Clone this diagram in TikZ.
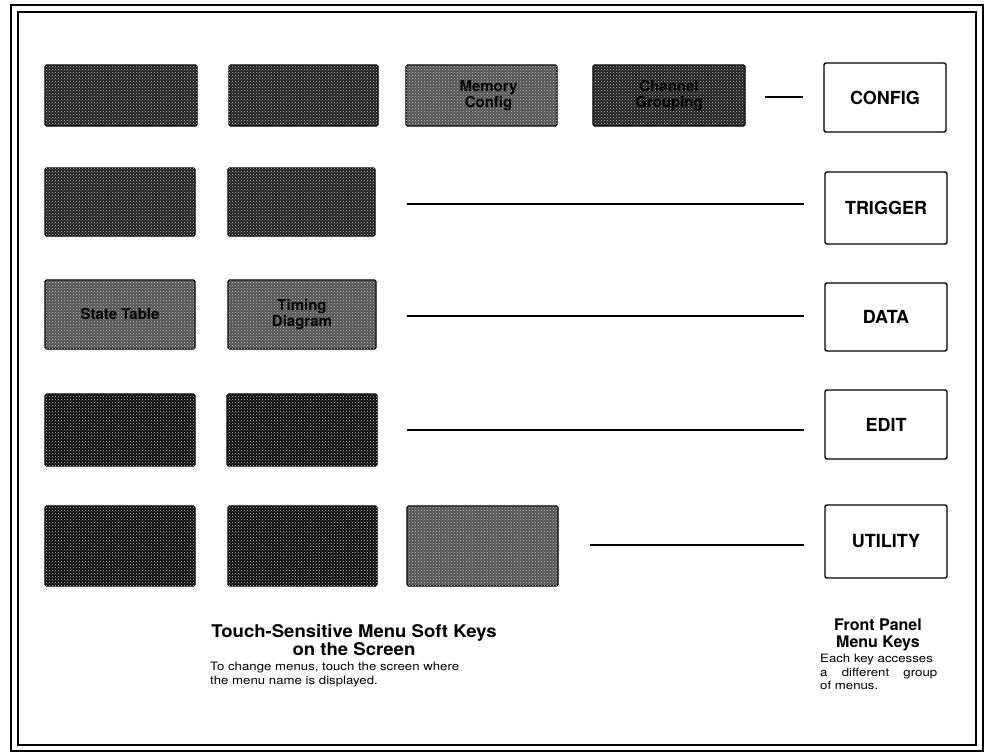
\documentclass[tikz,border=0pt]{standalone}
\usepackage{fontspec}
\setmainfont{TeX Gyre Heros}
\newfontfamily\widefont[FakeStretch=1.15]{TeX Gyre Heros}
\newfontfamily\titlefont[FakeStretch=1.06]{TeX Gyre Heros}
\usetikzlibrary{patterns}
\begin{document}
\begin{tikzpicture}[x=1pt,y=-1pt,
  softkey/.style={draw=black, line width=1.2pt, rounded corners=1.5pt, inner sep=0pt,
    font=\fontsize{15}{16}\selectfont\bfseries, align=center, text=black,
    postaction={pattern=crosshatch dots, pattern color=white!80!black}},
  keymid/.style={softkey, fill=black!68},
  keydark/.style={softkey, fill=black!88},
  keyvdark/.style={softkey, fill=black!96},
  panelkey/.style={draw=black, line width=1.4pt, rounded corners=2pt, inner sep=0pt,
    minimum width=122, minimum height=70, font=\fontsize{18}{19}\selectfont\bfseries},
  conn/.style={draw=black, line width=1.3pt, shorten >=20pt},
  title/.style={align=center, inner sep=0pt, font=\titlefont\fontsize{17.5}{18.5}\selectfont\bfseries},
  note/.style={inner sep=0pt, font=\widefont\fontsize{11.5}{13.5}\selectfont}
]
\useasboundingbox (0,0) rectangle (991,755);
\fill[white] (0,0) rectangle (991,755);
% frame
\draw[line width=2.2pt] (11,5) rectangle (983,751);
\draw[line width=1.6pt] (18,12) rectangle (976,745);

% row 1
\node[keydark, minimum width=152, minimum height=61] (k11) at (121,95.5) {};
\node[keydark, minimum width=149, minimum height=61] (k12) at (303.5,95.5) {};
\node[keymid, minimum width=151, minimum height=61] (k13) at (481.5,95.5) {\hspace*{14pt}Memory\\\hspace*{14pt}Config};
\node[keydark, minimum width=152, minimum height=61] (k14) at (669,95.5) {Channel\\Grouping};
% row 2
\node[keydark, minimum width=150, minimum height=68] (k21) at (120,202) {};
\node[keydark, minimum width=147, minimum height=68] (k22) at (301.5,202) {};
% row 3
\node[keymid, minimum width=150, minimum height=69] (k31) at (120,314.5) {State Table};
\node[keymid, minimum width=148, minimum height=69] (k32) at (302,314.5) {Timing\\Diagram};
% row 4
\node[keyvdark, minimum width=150, minimum height=72] (k41) at (120,430) {};
\node[keyvdark, minimum width=150, minimum height=72] (k42) at (302,430) {};
% row 5
\node[keyvdark, minimum width=150, minimum height=80] (k51) at (120,546) {};
\node[keyvdark, minimum width=149, minimum height=80] (k52) at (302.5,546) {};
\node[keymid, minimum width=151, minimum height=80] (k53) at (482.5,546) {};

% front panel keys
\node[panelkey, minimum height=69] (config) at (885,97.5) {CONFIG};
\node[panelkey, minimum height=72] (trigger) at (886,208) {TRIGGER};
\node[panelkey, minimum height=68] (data) at (886,317) {DATA};
\node[panelkey, minimum height=69] (edit) at (886,424.5) {EDIT};
\node[panelkey, minimum height=73] (utility) at (886,541.5) {UTILITY};

% connectors
\coordinate (s1) at (765,97);
\coordinate (s2) at (407,204);
\coordinate (s3) at (407,316);
\coordinate (s4) at (407,430);
\coordinate (s5) at (590,545);
\draw[conn] (s1) -- (s1 -| config.west);
\draw[conn] (s2) -- (s2 -| trigger.west);
\draw[conn] (s3) -- (s3 -| data.west);
\draw[conn] (s4) -- (s4 -| edit.west);
\draw[conn] (s5) -- (s5 -| utility.west);

% captions
\node[title, anchor=north] (lt) at (354,624) {Touch-Sensitive Menu Soft Keys\\on the Screen};
\node[note, anchor=north west, align=left] (ln) at (210,662) {To change menus, touch the screen where\\the menu name is displayed.};
\node[title, anchor=north, font=\fontsize{16}{16.5}\selectfont\bfseries] (rt) at (878,619) {Front Panel\\Menu Keys};
\node[note, anchor=north west, align=left] (rn) at (820,654) {\parbox{117pt}{Each key accesses\\a\hfill different\hfill group\\of menus.}};
\end{tikzpicture}
\end{document}
